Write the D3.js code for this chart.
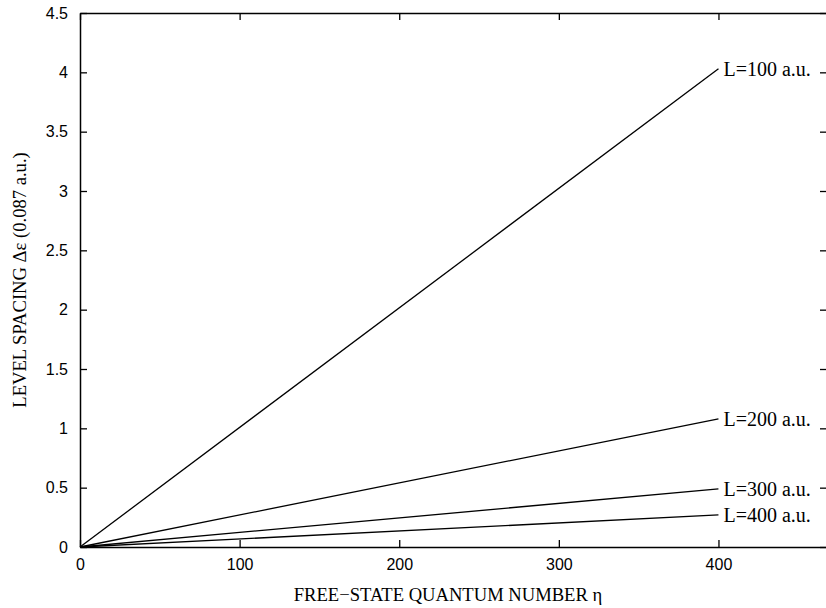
<!DOCTYPE html>
<html>
<head>
<meta charset="utf-8">
<script src="https://cdn.jsdelivr.net/npm/d3@7"></script>
<style>
  body { margin: 0; background: #fff; }
  svg { display: block; }
</style>
</head>
<body>
<div id="chart"></div>
<script>
// series: L (a.u.) and level spacing at eta = 400
const series = ["L=100 a.u.", "L=200 a.u.", "L=300 a.u.", "L=400 a.u."];
const etaStart = [0, 0, 0, 0];
const etaEnd = [400, 400, 400, 400];
const spacingStart = [0, 0, 0, 0];
const spacingEnd = [4.03, 1.08, 0.49, 0.27];

const xTicks = [0, 100, 200, 300, 400];
const yTicks = [0, 0.5, 1, 1.5, 2, 2.5, 3, 3.5, 4, 4.5];

const W = 826, H = 608;
// right border sits just past the picture edge, like the cropped original
const mLeft = 80, mRight = 827, mTop = 13, mBottom = 547;
const tick = 7;

const svg = d3.select("#chart").append("svg")
      .attr("width", W)
      .attr("height", H);

const x = d3.scaleLinear().domain([0, 468]).range([mLeft, mRight]);
const y = d3.scaleLinear().domain([0, 4.5]).range([mBottom, mTop]);

//axes (gnuplot style, ticks pointing in, mirrored)
const axBottom = svg.append("g")
      .attr("transform", `translate(0,${mBottom})`)
      .call(d3.axisBottom(x).tickValues(xTicks).tickSizeInner(-tick).tickSizeOuter(0).tickPadding(12).tickFormat(d3.format("d")));
const axTop = svg.append("g")
      .attr("transform", `translate(0,${mTop})`)
      .call(d3.axisTop(x).tickValues(xTicks).tickSizeInner(-tick).tickSizeOuter(0).tickFormat(""));
const axLeft = svg.append("g")
      .attr("transform", `translate(${mLeft},0)`)
      .call(d3.axisLeft(y).tickValues(yTicks).tickSizeInner(-tick).tickSizeOuter(0).tickPadding(12).tickFormat(d3.format("")));
const axRight = svg.append("g")
      .attr("transform", `translate(${mRight},0)`)
      .call(d3.axisRight(y).tickValues(yTicks).tickSizeInner(-tick).tickSizeOuter(0).tickFormat(""));

for (const ax of [axBottom, axTop, axLeft, axRight]) {
      ax.select(".domain").attr("stroke", "#000").attr("stroke-width", 1.5);
      ax.selectAll(".tick line").attr("stroke", "#000").attr("stroke-width", 1.3);
      ax.selectAll(".tick text")
            .attr("fill", "#000")
            .style("font-family", "'Liberation Sans', Arial, sans-serif")
            .style("font-size", "16px");
}
axBottom.selectAll(".tick text").attr("dy", "0.71em");

//lines
const lines = series.map((name, i) => ({
      name: name,
      pts: [[etaStart[i], spacingStart[i]], [etaEnd[i], spacingEnd[i]]]
}));

const line = d3.line().x((d) => x(d[0])).y((d) => y(d[1]));

svg.selectAll(".series")
      .data(lines)
      .enter()
      .append("path")
      .attr("class", "series")
      .attr("d", (d) => line(d.pts))
      .attr("fill", "none")
      .attr("stroke", "#000")
      .attr("stroke-width", 1.3);

svg.selectAll(".label")
      .data(lines)
      .enter()
      .append("text")
      .attr("class", "label")
      .attr("x", (d) => x(d.pts[1][0]) + 5)
      .attr("y", (d) => y(d.pts[1][1]))
      .attr("dy", "0.35em")
      .style("font-family", "'Liberation Serif', 'Times New Roman', serif")
      .style("font-size", "20px")
      .text((d) => d.name);

//axis titles
svg.append("text")
      .attr("x", (mLeft + 816) / 2)
      .attr("y", 601)
      .attr("text-anchor", "middle")
      .style("font-family", "'Liberation Serif', 'Times New Roman', serif")
      .style("font-size", "18.6px")
      .text("FREE\u2212STATE QUANTUM NUMBER \u03B7");

svg.append("text")
      .attr("transform", `translate(26,${(mTop + mBottom) / 2}) rotate(-90)`)
      .attr("text-anchor", "middle")
      .style("font-family", "'Liberation Serif', 'Times New Roman', serif")
      .style("font-size", "18.6px")
      .text("LEVEL SPACING \u0394\u03B5 (0.087 a.u.)");
</script>
</body>
</html>
